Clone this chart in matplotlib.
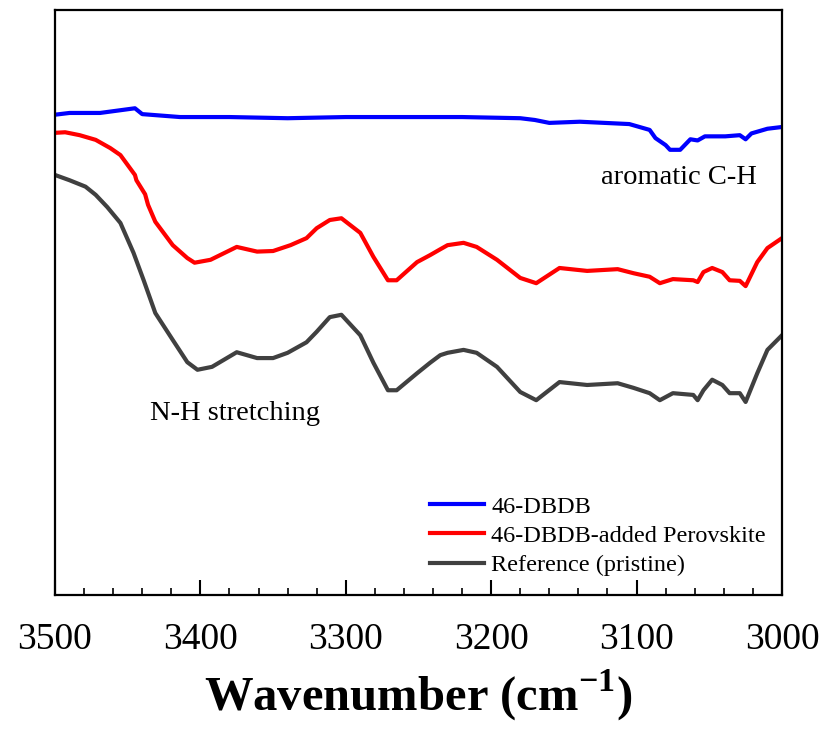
import matplotlib
matplotlib.use("Agg")
import matplotlib.pyplot as plt
from matplotlib.ticker import MultipleLocator

# FTIR spectra (transmittance, a.u.)
wn_blue = [3500, 3490, 3469, 3445, 3440, 3414, 3380, 3340, 3300, 3260, 3220, 3180, 3170,
           3160, 3139, 3105, 3098, 3091, 3087, 3080, 3077, 3070, 3063, 3058, 3053, 3039,
           3029, 3025, 3021, 3010, 3000]
t_blue = [82.1, 82.4, 82.4, 83.2, 82.2, 81.7, 81.7, 81.5, 81.7, 81.7, 81.7, 81.5, 81.2,
          80.7, 80.9, 80.5, 80.0, 79.5, 78.1, 76.9, 76.1, 76.1, 77.9, 77.7, 78.4, 78.4,
          78.6, 77.9, 78.9, 79.7, 80.0]

wn_red = [3500, 3493, 3483, 3472, 3462, 3455, 3450, 3445, 3444, 3438, 3436, 3431, 3419,
          3409, 3404, 3393, 3375, 3361, 3350, 3338, 3327, 3320, 3311, 3303, 3290, 3281,
          3271, 3265, 3251, 3242, 3235, 3230, 3219, 3210, 3196, 3180, 3169, 3153, 3134,
          3113, 3102, 3091, 3084, 3075, 3061, 3058, 3054, 3048, 3041, 3036, 3029, 3025,
          3017, 3010, 3000]
t_red = [79.0, 79.1, 78.6, 77.8, 76.4, 75.2, 73.5, 71.8, 70.9, 68.5, 66.7, 63.8, 59.8,
         57.6, 56.8, 57.3, 59.5, 58.7, 58.8, 59.8, 61.0, 62.7, 64.1, 64.4, 61.9, 57.8,
         53.8, 53.8, 56.9, 58.1, 59.1, 59.8, 60.2, 59.5, 57.3, 54.2, 53.3, 55.9, 55.4,
         55.7, 55.0, 54.4, 53.3, 54.0, 53.8, 53.5, 55.2, 55.9, 55.2, 53.8, 53.7, 52.8,
         56.9, 59.3, 61.0]

wn_gray = [3500, 3490, 3479, 3472, 3464, 3455, 3446, 3439, 3431, 3419, 3409,
           3402, 3392, 3375, 3361, 3350, 3340, 3327, 3320, 3311, 3303, 3290, 3281, 3271,
           3265, 3251, 3242, 3235, 3230, 3219, 3210, 3196, 3180, 3169, 3153, 3134, 3113,
           3102, 3091, 3084, 3075, 3061, 3058, 3054, 3048, 3041, 3036, 3029, 3025, 3017,
           3010, 3000]
t_gray = [71.8, 70.9, 69.8, 68.4, 66.3, 63.6, 58.5, 53.8, 48.2, 43.6, 39.8,
          38.5, 39.0, 41.5, 40.5, 40.5, 41.4, 43.2, 45.0, 47.5, 47.9, 44.4, 39.7, 35.0,
          35.0, 37.9, 39.7, 41.0, 41.4, 41.9, 41.4, 39.0, 34.7, 33.3, 36.4, 35.9, 36.2,
          35.4, 34.5, 33.3, 34.5, 34.2, 33.3, 35.0, 36.8, 35.9, 34.5, 34.5, 33.0, 37.9,
          41.9, 44.4]

labels = ["46-DBDB", "46-DBDB-added Perovskite", "Reference (pristine)"]

plt.rcParams['font.family'] = ['Liberation Serif', 'DejaVu Serif']
plt.rcParams['mathtext.fontset'] = 'custom'
plt.rcParams['mathtext.rm'] = 'Liberation Serif'
plt.rcParams['mathtext.bf'] = 'Liberation Serif:bold'

fig = plt.figure(figsize=(8.28, 7.29), dpi=100)
ax = fig.add_axes([0.0664, 0.1838, 0.878, 0.8025])

ax.plot(wn_blue, t_blue, color='#0000ff', lw=3, label=labels[0])
ax.plot(wn_red, t_red, color='#ff0000', lw=3, label=labels[1])
ax.plot(wn_gray, t_gray, color='#404040', lw=3, label=labels[2])

ax.set_xlim(3500, 3000)
ax.set_ylim(0, 100)
ax.set_yticks([])
ax.xaxis.set_major_locator(MultipleLocator(100))
ax.xaxis.set_minor_locator(MultipleLocator(20))
ax.tick_params(axis='x', which='major', direction='in', length=11, width=1.5,
               labelsize=27, pad=20)
ax.tick_params(axis='x', which='minor', direction='in', length=5, width=1.2)
for s in ax.spines.values():
    s.set_linewidth(1.6)

ax.set_xlabel(r'Wavenumber (cm$^{\mathbf{-1}}$)', fontsize=35, fontweight='bold', labelpad=8)

ax.text(3071, 71.3, 'aromatic C-H', fontsize=20.5, ha='center', va='center')
ax.text(3376, 31.1, 'N-H stretching', fontsize=20.5, ha='center', va='center')

ax.legend(loc='lower left', bbox_to_anchor=(0.493, 0.003), frameon=False, fontsize=17.5,
          handlelength=2.2, handletextpad=0.3, labelspacing=0.3, borderpad=0.2)

fig.savefig('out.png', dpi=100)
